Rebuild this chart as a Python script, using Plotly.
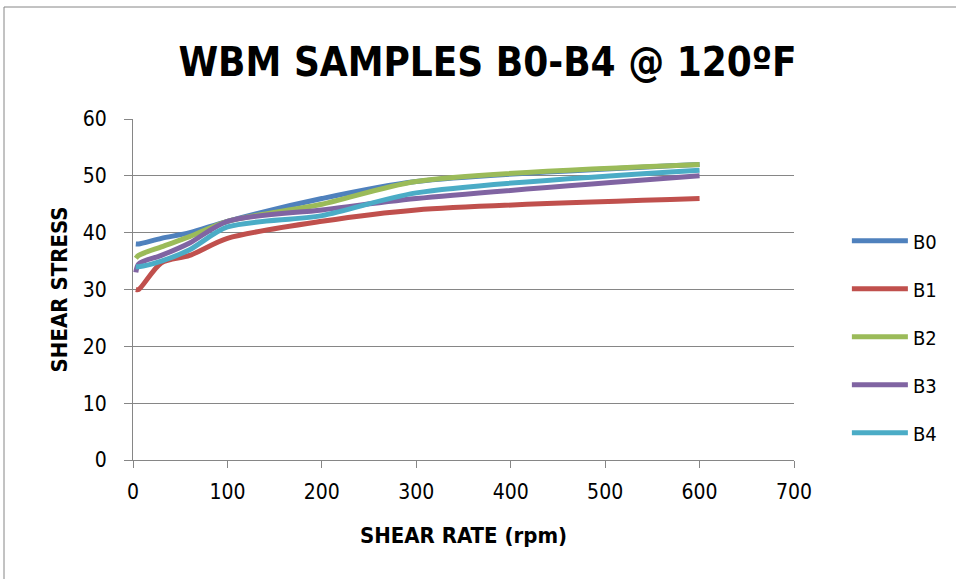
import plotly.graph_objects as go

# Shear rate readings (rpm) and shear stress for each WBM sample
shear_rate = [3, 6, 30, 60, 100, 200, 300, 600]
b0 = [38, 38, 39, 40, 42, 46, 49, 52]
b1 = [30, 30, 34.7, 36, 39, 42, 44, 46]
b2 = [35.5, 36, 37.5, 39.3, 42, 45, 49, 52]
b3 = [33, 34.5, 36, 38.2, 42, 44, 46, 50]
b4 = [34, 34, 35, 37, 41, 43, 47, 51]

series = [("B0", b0, "#4F81BD"), ("B1", b1, "#C0504D"), ("B2", b2, "#9BBB59"),
          ("B3", b3, "#8064A2"), ("B4", b4, "#4BACC6")]

x_ticks = [0, 100, 200, 300, 400, 500, 600, 700]
y_ticks = [0, 10, 20, 30, 40, 50, 60]

FONT = "DejaVu Sans Condensed, Arial Narrow, sans-serif"
GRID = "#868686"

fig = go.Figure()
for name, vals, color in series:
    fig.add_trace(go.Scatter(
        x=shear_rate, y=vals, name=name, mode="lines", legendgroup=name,
        line=dict(color=color, width=5, shape="spline", smoothing=0.8),
    ))

fig.update_layout(
    width=956, height=579,
    margin=dict(l=133, r=162, t=119, b=119),
    paper_bgcolor="white", plot_bgcolor="white",
    font=dict(family=FONT, size=20, color="black"),
    title=dict(text="<b>WBM SAMPLES B0-B4 @ 120ºF</b>", x=0.51, xanchor="center",
               y=0.893, yanchor="middle", font=dict(family=FONT, size=40, color="black")),
    xaxis=dict(range=[0, 700], tickvals=x_ticks, showgrid=False, showline=True,
               linecolor=GRID, linewidth=1, ticks="outside", ticklen=7, tickcolor=GRID,
               ticklabelstandoff=6, tickfont=dict(size=21),
               zeroline=False, fixedrange=True,
               title=dict(text="<b>SHEAR RATE (rpm)</b>", font=dict(size=22), standoff=24)),
    yaxis=dict(range=[0, 60], tickvals=y_ticks, showgrid=True, gridcolor=GRID, gridwidth=1,
               showline=True, linecolor=GRID, linewidth=1, ticks="outside", ticklen=8,
               tickcolor=GRID, ticklabelstandoff=13, tickfont=dict(size=21),
               zeroline=False, fixedrange=True,
               title=dict(text="<b>SHEAR STRESS</b>", font=dict(size=22), standoff=9)),
    legend=dict(x=1.08, y=0.70, xanchor="left", yanchor="top", tracegroupgap=19,
                itemwidth=56, font=dict(size=20), bgcolor="rgba(0,0,0,0)"),
    showlegend=True,
)

# Chart-area frame (left and top edges fall inside the page)
fig.add_shape(type="rect", xref="paper", yref="paper",
              x0=(4 - 133) / 661, x1=2.0, y0=-2.0, y1=(460 - 7) / 341,
              line=dict(color=GRID, width=1), fillcolor="rgba(0,0,0,0)", layer="below")

fig.write_html("out.html")
